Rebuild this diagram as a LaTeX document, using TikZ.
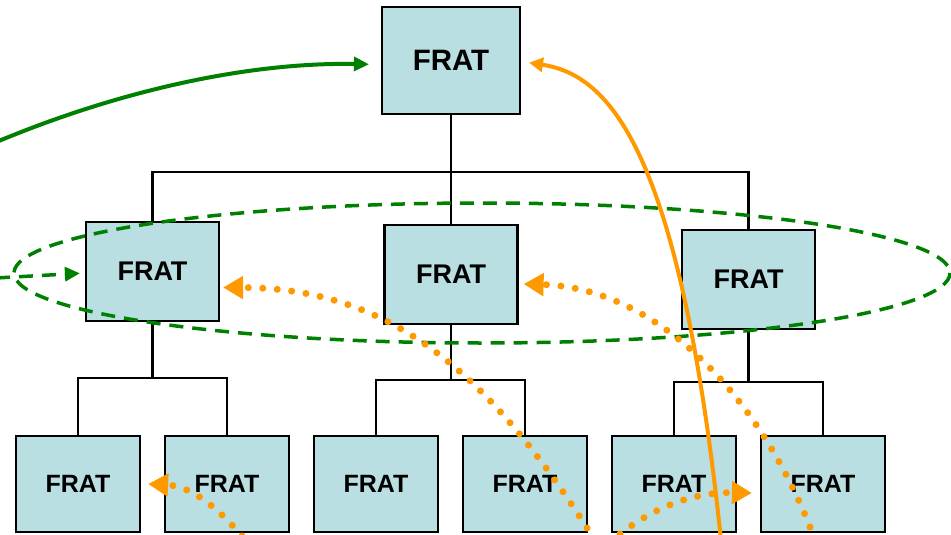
\documentclass[tikz,border=0pt]{standalone}
\usepackage{fontspec}
\setmainfont{Liberation Sans}
\usetikzlibrary{arrows.meta}
\definecolor{boxfill}{RGB}{185,223,226}
\definecolor{dkgreen}{RGB}{0,128,0}
\definecolor{orng}{RGB}{255,153,0}
\tikzset{
  fbox/.style={draw=black, line width=2.2pt, fill=boxfill, inner sep=0pt, font=\bfseries},
  topbox/.style={fbox, minimum width=138pt, minimum height=107pt, font=\bfseries\fontsize{29.5}{29.5}\selectfont},
  midbox/.style={fbox, minimum width=133pt, minimum height=99pt, font=\bfseries\fontsize{27}{27}\selectfont},
  botbox/.style={fbox, minimum width=124pt, minimum height=96pt, font=\bfseries\fontsize{25}{25}\selectfont},
  tree/.style={draw=black, line width=2.2pt},
  greendash/.style={draw=dkgreen, line width=3.5pt, dash pattern=on 14pt off 9pt},
  greensolid/.style={draw=dkgreen, line width=4pt, -{Triangle[length=15pt,width=14pt]}},
  orangesolid/.style={draw=orng, line width=4pt, -{Triangle[length=14pt,width=14pt]}},
  orangedot/.style={draw=orng, line width=7pt, line cap=round, dash pattern=on 0pt off 14.5pt, -{Triangle[length=20pt,width=22pt]}},
}
\begin{document}
\begin{tikzpicture}[x=1pt,y=-1pt]
\path[use as bounding box, clip] (0,0) rectangle (951,535);
\fill[white] (0,0) rectangle (951,535);
% boxes
\node[topbox] (top) at (451,60.5) {FRAT};
\node[midbox] (ml) at (152.5,271.5) {FRAT};
\node[midbox] (mc) at (451,274.5) {FRAT};
\node[midbox] (mr) at (748.5,279.5) {FRAT};
\node[botbox] (b1) at (78,484) {FRAT};
\node[botbox] (b2) at (227,484) {FRAT};
\node[botbox] (b3) at (376,484) {FRAT};
\node[botbox] (b4) at (525,484) {FRAT};
\node[botbox] (b5) at (674,484) {FRAT};
\node[botbox] (b6) at (823,484) {FRAT};
% tree lines
\coordinate (jt) at (451,172);
\coordinate (jl) at (152.5,378);
\coordinate (jc) at (451,380);
\coordinate (jr) at (748.5,382);
\draw[tree] (top.south) -- (mc.north);
\draw[tree] (ml.north) |- (jt) -| (mr.north);
\draw[tree] (ml.south) -- (jl);
\draw[tree] (b1.north) |- (jl) -| (b2.north);
\draw[tree] (mc.south) -- (jc);
\draw[tree] (b3.north) |- (jc) -| (b4.north);
\draw[tree] (mr.south) -- (jr);
\draw[tree] (b5.north) |- (jr) -| (b6.north);
% green ellipse
\coordinate (ec) at (482,273);
\draw[greendash] (ec) ellipse [x radius=468, y radius=70];
% green dashed arrow
\coordinate (gs) at (-4,278);
\draw[greendash, -{Triangle[length=15pt,width=14pt]}, shorten >=5pt] (gs) -- ([yshift=-1.5pt]ml.west);
% green solid arrow
\coordinate (gs2) at (-6,143);
\draw[greensolid, shorten >=12pt] (gs2) .. controls (120,90) and (250,62) .. ([yshift=-4pt]top.west);
% orange solid arrow
\coordinate (os) at (721,540);
\draw[orangesolid, shorten >=8pt] (os) .. controls (680,150) and (610,75) .. ([yshift=-1pt]top.east);
% orange dotted arrows
\coordinate (d1) at (242,536);
\draw[orangedot] (d1) .. controls (215,505) and (190,486) .. ([xshift=7pt]b1.east);
\coordinate (d2) at (587,528);
\draw[orangedot] (d2) .. controls (480,360) and (380,288) .. ([shift={(3pt,-16pt)}]ml.east);
\coordinate (d3) at (620,534);
\draw[orangedot] (d3) .. controls (660,503) and (700,492) .. ([shift={(-8pt,-9pt)}]b6.west);
\coordinate (d4) at (810,527);
\draw[orangedot] (d4) .. controls (760,400) and (660,288) .. ([shift={(5pt,-9.5pt)}]mc.east);
\end{tikzpicture}
\end{document}
